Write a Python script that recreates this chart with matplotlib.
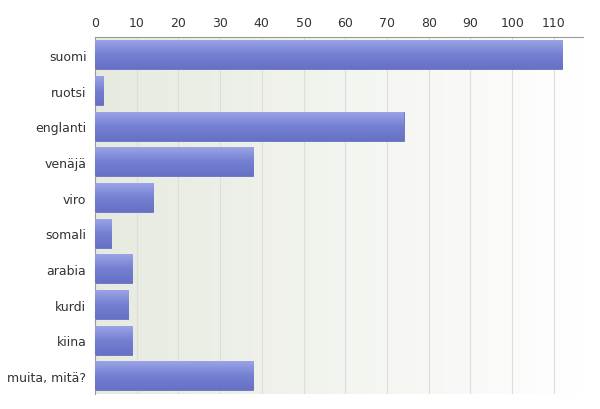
import matplotlib
matplotlib.use("Agg")
import matplotlib.pyplot as plt
import numpy as np

categories = ["suomi", "ruotsi", "englanti", "venäjä", "viro", "somali", "arabia", "kurdi", "kiina", "muita, mitä?"]
values = [112, 2, 74, 38, 14, 4, 9, 8, 9, 38]
ticks = list(range(0, 111, 10))

fig = plt.figure(figsize=(6, 4.1), dpi=100)
ax = fig.add_axes([0.158, 0.037, 0.814, 0.870])
ax.set_xlim(0, 117)
ax.set_ylim(len(categories) - 0.5, -0.5)

# background gradient
grad = np.linspace(0, 1, 256).reshape(1, -1)
from matplotlib.colors import LinearSegmentedColormap
bg = LinearSegmentedColormap.from_list("bg", ["#e6eadf", "#ffffff"])
ax.imshow(grad, extent=[0, 1, 0, 1], transform=ax.transAxes, cmap=bg, aspect="auto", zorder=0)

for t in ticks:
    ax.axvline(t, color="#dddddd", lw=0.8, zorder=1)

y = np.arange(len(categories))
bars = ax.barh(y, values, height=0.8, color="#7b86d4", edgecolor="#6670c0", lw=0.6, zorder=2)
barcm = LinearSegmentedColormap.from_list("bar", ["#9aa3e6", "#7580d2", "#6670c4"])
vgrad = np.linspace(0, 1, 64).reshape(-1, 1)
for b in bars:
    x0, y0, w, h = b.get_x(), b.get_y(), b.get_width(), b.get_height()
    ax.imshow(vgrad, extent=[x0, x0 + w, y0 + h, y0], cmap=barcm, aspect="auto", zorder=3)

ax.set_yticks(y)
ax.set_yticklabels(categories)
ax.set_xticks(ticks)
ax.xaxis.tick_top()
ax.tick_params(axis="both", labelsize=9, colors="#333333", length=0, pad=6)
for s in ["right", "bottom"]:
    ax.spines[s].set_visible(False)
for s in ["top", "left"]:
    ax.spines[s].set_color("#999999")
fig.savefig("out.png", dpi=100)
